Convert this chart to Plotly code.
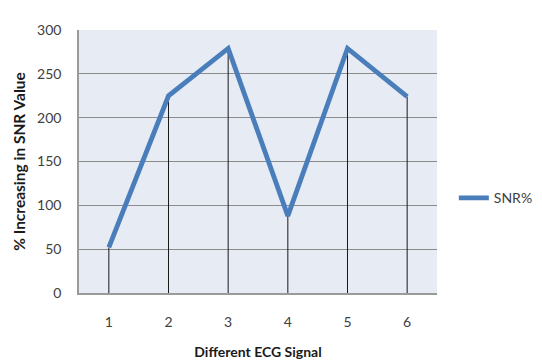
import plotly.graph_objects as go

# ECG signal index and percentage SNR improvement
signals = [1, 2, 3, 4, 5, 6]
snr_pct = [52, 225, 279, 88, 279, 224]
y_ticks = [0, 50, 100, 150, 200, 250, 300]

# vertical drop lines from each point down to the x axis
drop_x, drop_y = [], []
for s, v in zip(signals, snr_pct):
    drop_x += [s, s, None]
    drop_y += [0, v, None]

font_family = "Lato, 'Open Sans', sans-serif"

fig = go.Figure()
fig.add_trace(go.Scatter(
    x=drop_x, y=drop_y, mode="lines",
    line=dict(color="#1a1a1a", width=1),
    showlegend=False, hoverinfo="skip",
))
fig.add_trace(go.Scatter(
    x=signals, y=snr_pct, mode="lines", name="SNR%",
    line=dict(color="#4A7EBB", width=4.8),
))

fig.update_layout(
    width=542, height=360,
    margin=dict(l=79, r=105, t=30, b=67, autoexpand=False),
    paper_bgcolor="white",
    plot_bgcolor="#E6EBF4",
    font=dict(family=font_family, size=14, color="#404040"),
    legend=dict(
        x=1.047, y=0.36, xanchor="left", yanchor="middle",
        font=dict(size=14, color="#404040"),
        itemwidth=30, bgcolor="rgba(0,0,0,0)",
    ),
    xaxis=dict(
        range=[0.5, 6.5], automargin=False,
        tickmode="array", tickvals=signals, ticktext=[str(s) for s in signals],
        showgrid=False, zeroline=False,
        showline=True, linecolor="#9a9a9a", linewidth=1.5,
        ticks="", ticklabelstandoff=15,
        title=dict(text="<b>Different ECG Signal</b>", standoff=19,
                   font=dict(size=14, color="#1a1a1a")),
    ),
    yaxis=dict(
        range=[0, 300], automargin=False,
        tickmode="array", tickvals=y_ticks,
        showgrid=True, gridcolor="#8c8c8c", gridwidth=1,
        zeroline=False,
        showline=True, linecolor="#9a9a9a", linewidth=1.5,
        ticks="", ticklabelstandoff=13,
        title=dict(text="<b>% Increasing in SNR Value</b>", standoff=8,
                   font=dict(size=15.5, color="#1a1a1a")),
    ),
)

fig.write_html("out.html")
